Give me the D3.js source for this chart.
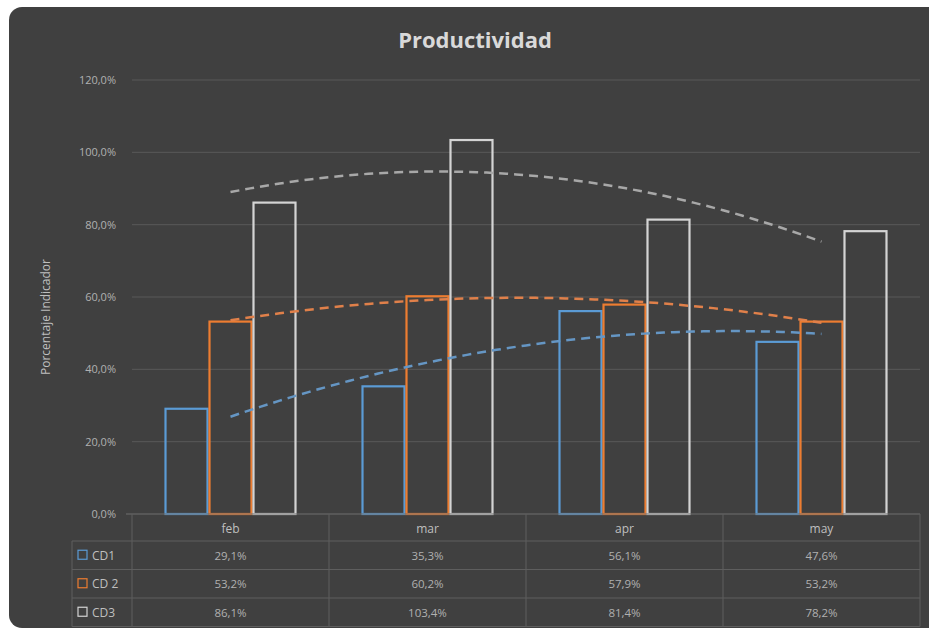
<!DOCTYPE html>
<html lang="es">
  <head>
    <meta charset="UTF-8" />
    <title>Productividad</title>
    <style>
      body { margin: 0; background: #fff; }
      svg text { font-family: "Open Sans", "Noto Sans", sans-serif; }
    </style>
  </head>
  <body>
    <svg id="chart" width="929" height="631"></svg>

    <script src="https://d3js.org/d3.v7.min.js"></script>
    <script>
      // data
      const months = ["feb", "mar", "apr", "may"];
      const seriesNames = ["CD1", "CD 2", "CD3"];
      const cd1 = [29.1, 35.3, 56.1, 47.6];
      const cd2 = [53.2, 60.2, 57.9, 53.2];
      const cd3 = [86.1, 103.4, 81.4, 78.2];
      const yTicks = [0, 20, 40, 60, 80, 100, 120];

      const allSeries = [cd1, cd2, cd3];
      const colors = ["#5b9bd5", "#ed7d31", "#d4d4d4"];
      const trendColors = ["#6596c4", "#e0804a", "#a8a8a8"];

      const locale = d3.formatLocale({ decimal: ",", thousands: ".", grouping: [3], currency: ["", ""] });
      const fmt = locale.format(".1f");

      const svg = d3.select("#chart");

      // dark panel
      svg.append("rect")
        .attr("x", 9).attr("y", 7)
        .attr("width", 940).attr("height", 621)
        .attr("rx", 13)
        .attr("fill", "#404040");

      svg.append("text")
        .attr("x", 475).attr("y", 48)
        .attr("text-anchor", "middle")
        .attr("fill", "#d9d9d9")
        .attr("font-size", 22)
        .attr("font-weight", 700)
        .text("Productividad");

      const plotL = 132, plotR = 920, plotT = 80, plotB = 514;

      const y = d3.scaleLinear().domain([0, 120]).range([plotB, plotT]);
      const x0 = d3.scaleBand().domain(months).range([plotL, plotR]);
      const x1 = d3.scaleBand().domain(d3.range(3))
        .range([x0.bandwidth() * 0.165, x0.bandwidth() * 0.835]);

      // grid
      svg.append("g")
        .selectAll("line")
        .data(yTicks.filter(d => d > 0))
        .join("line")
        .attr("x1", plotL).attr("x2", plotR)
        .attr("y1", d => y(d)).attr("y2", d => y(d))
        .attr("stroke", "#585858");

      // y axis labels
      const yAxis = svg.append("g")
        .attr("transform", `translate(${plotL},0)`)
        .call(d3.axisLeft(y).tickValues(yTicks).tickSize(0).tickPadding(16)
          .tickFormat(d => fmt(d) + "%"));
      yAxis.select(".domain").remove();
      yAxis.selectAll("text")
        .attr("fill", "#b0b0b0")
        .attr("font-size", 11);

      svg.append("text")
        .attr("transform", `translate(50,${(plotT + plotB) / 2 + 20}) rotate(-90)`)
        .attr("text-anchor", "middle")
        .attr("fill", "#bfbfbf")
        .attr("font-size", 12)
        .text("Porcentaje Indicador");

      // bars
      const groups = svg.append("g")
        .selectAll("g")
        .data(months)
        .join("g")
        .attr("transform", d => `translate(${x0(d)},0)`);

      groups.selectAll("rect")
        .data((m, i) => allSeries.map((s, k) => ({ k, v: s[i] })))
        .join("rect")
        .attr("x", d => x1(d.k) + 1)
        .attr("width", x1.bandwidth() - 2)
        .attr("y", d => y(d.v))
        .attr("height", d => plotB - y(d.v))
        .attr("fill", "none")
        .attr("stroke", d => colors[d.k])
        .attr("stroke-width", 2.2);

      // polynomial (order 2) trend lines, least squares fit like the spreadsheet does
      function quadFit(vals) {
        const n = vals.length;
        const xs = d3.range(1, n + 1);
        const xm = d3.mean(xs);
        const t = xs.map(v => v - xm);
        const t2m = d3.mean(t, v => v * v);
        const s = t.map(v => v * v - t2m);
        const ym = d3.mean(vals);
        const b = d3.sum(t, (v, i) => v * vals[i]) / d3.sum(t, v => v * v);
        const c = d3.sum(s, (v, i) => v * vals[i]) / d3.sum(s, v => v * v);
        const a = ym - c * t2m;
        return xv => { const u = xv - xm; return a + b * u + c * u * u; };
      }

      const xc = d3.scaleLinear().domain([1, months.length])
        .range([x0(months[0]) + x0.bandwidth() / 2, x0(months[months.length - 1]) + x0.bandwidth() / 2]);

      const line = d3.line().x(d => xc(d[0])).y(d => y(d[1]));

      allSeries.forEach((s, k) => {
        const f = quadFit(s);
        const pts = d3.range(1, months.length + 0.001, 0.05).map(v => [v, f(v)]);
        svg.append("path")
          .attr("d", line(pts))
          .attr("fill", "none")
          .attr("stroke", trendColors[k])
          .attr("stroke-width", 2.5)
          .attr("stroke-dasharray", "9,6");
      });

      // data table
      const tableLeft = 72, headH = 27, rowH = 28.5;
      const tbl = svg.append("g");
      const lineColor = "#5e5e5e";

      tbl.append("line")
        .attr("x1", plotL - 6).attr("x2", plotR)
        .attr("y1", plotB).attr("y2", plotB)
        .attr("stroke", "#6e6e6e");

      d3.range(1, 5).forEach(r => {
        tbl.append("line")
          .attr("x1", tableLeft).attr("x2", plotR)
          .attr("y1", plotB + headH + (r - 1) * rowH)
          .attr("y2", plotB + headH + (r - 1) * rowH)
          .attr("stroke", lineColor);
      });

      tbl.append("line")
        .attr("x1", tableLeft).attr("x2", tableLeft)
        .attr("y1", plotB + headH).attr("y2", plotB + headH + 3 * rowH)
        .attr("stroke", lineColor);

      months.concat(["end"]).forEach((m, i) => {
        const xv = i < months.length ? x0(m) : plotR;
        tbl.append("line")
          .attr("x1", xv).attr("x2", xv)
          .attr("y1", plotB).attr("y2", plotB + headH + 3 * rowH)
          .attr("stroke", lineColor);
      });

      tbl.selectAll(".mlabel")
        .data(months)
        .join("text")
        .attr("class", "mlabel")
        .attr("x", d => x0(d) + x0.bandwidth() / 2)
        .attr("y", plotB + 19)
        .attr("text-anchor", "middle")
        .attr("fill", "#bfbfbf")
        .attr("font-size", 12)
        .text(d => d);

      allSeries.forEach((s, k) => {
        const cy = plotB + headH + k * rowH + rowH / 2;
        tbl.append("rect")
          .attr("x", 78).attr("y", cy - 5)
          .attr("width", 9).attr("height", 9)
          .attr("fill", "none")
          .attr("stroke", colors[k])
          .attr("stroke-width", 1.2);
        tbl.append("text")
          .attr("x", 92).attr("y", cy + 4.5)
          .attr("fill", "#bfbfbf")
          .attr("font-size", 12)
          .text(seriesNames[k]);
        tbl.selectAll(null)
          .data(s)
          .join("text")
          .attr("x", (d, i) => x0(months[i]) + x0.bandwidth() / 2)
          .attr("y", cy + 4.5)
          .attr("text-anchor", "middle")
          .attr("fill", "#b0b0b0")
          .attr("font-size", 11.5)
          .text(d => fmt(d) + "%");
      });
    </script>
  </body>
</html>
